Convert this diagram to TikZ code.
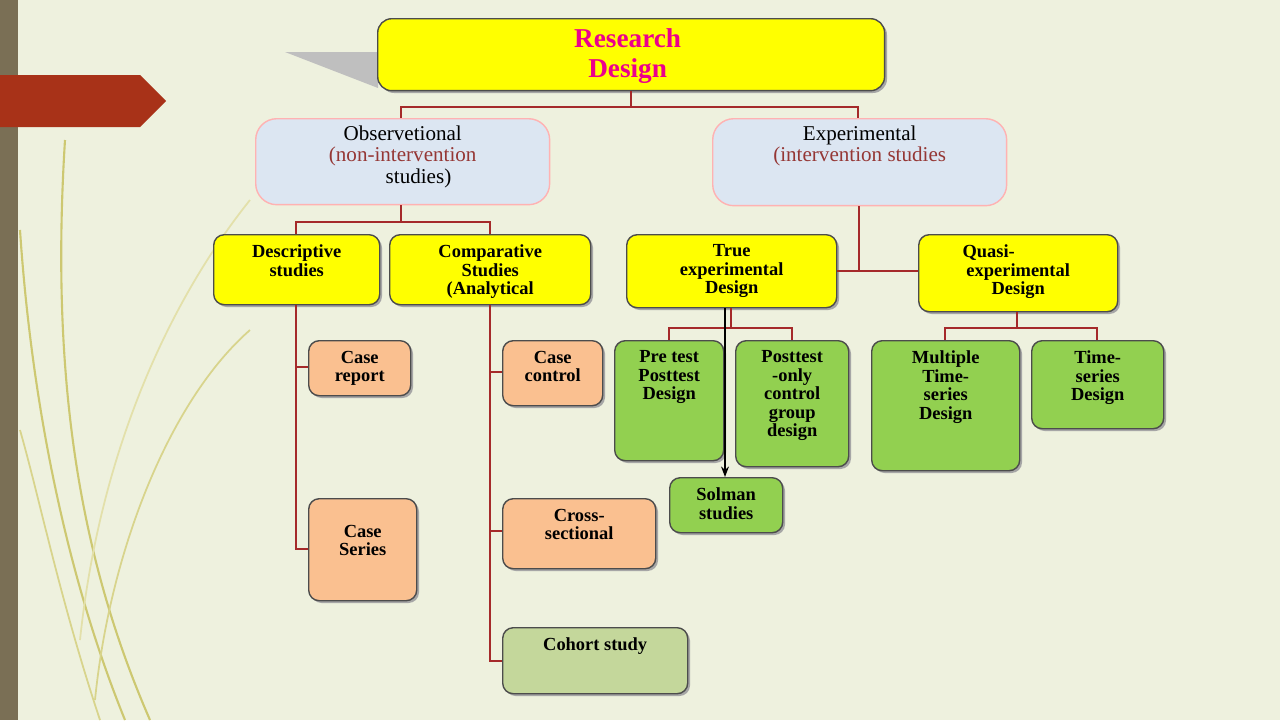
\documentclass[tikz,border=0pt]{standalone}
\usepackage{fontspec}
\setmainfont{Liberation Serif}
\usetikzlibrary{arrows.meta}
\definecolor{bg}{HTML}{EEF1DE}
\definecolor{ylw}{HTML}{FFFF00}
\definecolor{sal}{HTML}{FAC090}
\definecolor{grn}{HTML}{92D050}
\definecolor{lgrn}{HTML}{C4D79B}
\definecolor{lblue}{HTML}{DCE6F2}
\definecolor{conn}{HTML}{A52A2A}
\definecolor{redtxt}{HTML}{953735}
\definecolor{tab}{HTML}{A83218}
\definecolor{strip}{HTML}{7A6F55}
\tikzset{
 bx/.style={draw=black!70, line width=0.8pt, rounded corners=6pt, anchor=north west, inner sep=0pt},
 txt/.style={anchor=north, align=center, font=\bfseries\fontsize{10.5}{10.5}\selectfont, inner sep=0pt},
 cn/.style={draw=conn, line width=1.6pt},
}
\newcommand{\bbox}[7]{% name x1 y1 x2 y2 fill text
 \fill[black!35, rounded corners=6pt] (#2+3,#3+3) rectangle (#4+3,#5+3);
 \node[bx, fill=#6, minimum width=#4*0.02cm-#2*0.02cm, minimum height=#5*0.02cm-#3*0.02cm] (#1) at (#2,#3) {};
 \node[txt] at ([yshift=-6pt]#1.north) {#7};}
\begin{document}
\begin{tikzpicture}[x=0.02cm,y=-0.02cm]
\useasboundingbox (0,0) rectangle (1280,720);
\fill[bg] (0,0) rectangle (1280,720);
\fill[strip] (0,0) rectangle (18,720);
\fill[tab] (0,75) -- (140,75) -- (166,101) -- (140,127) -- (0,127) -- cycle;
\draw[olive!45, line width=1.2pt] (125,720) .. controls (60,560) and (30,380) .. (20,230);
\draw[olive!45, line width=1.2pt] (150,720) .. controls (80,560) and (50,380) .. (65,140);
\draw[olive!35, line width=1pt] (100,720) .. controls (60,600) and (40,500) .. (20,430);
\draw[olive!35, line width=1pt] (95,700) .. controls (110,550) and (170,400) .. (250,330);
\draw[olive!25, line width=1pt] (80,640) .. controls (100,450) and (170,300) .. (250,200);
\fill[black!25] (285,52) -- (378,52) -- (378,88) -- cycle;
% top
\fill[black!35, rounded corners=8pt] (380,21) rectangle (887,93);
\node[bx, fill=ylw, rounded corners=8pt, minimum width=10.14cm, minimum height=1.44cm] (rd) at (377,18) {};
\node[anchor=north, align=center, text=magenta, font=\bfseries\fontsize{15.5}{17}\selectfont, inner sep=0pt] at ([yshift=-6pt,xshift=-2pt]rd.north) {Research\\Design};
% level 2
\node[bx, draw=red!30, fill=lblue, rounded corners=12pt, minimum width=5.88cm, minimum height=1.72cm] (obs) at (255,118) {};
\node[txt, font=\fontsize{12}{12.5}\selectfont] at ([yshift=-4pt]obs.north) {Observetional\\\textcolor{redtxt}{(non-intervention}\\\hspace*{1.5em}studies)};
\node[bx, draw=red!30, fill=lblue, rounded corners=12pt, minimum width=5.88cm, minimum height=1.74cm] (exp) at (712,118) {};
\node[txt, font=\fontsize{12}{12.5}\selectfont] at ([yshift=-4pt]exp.north) {Experimental\\\textcolor{redtxt}{(intervention studies}};
% level 3
\bbox{desc}{213}{234}{379}{304}{ylw}{Descriptive\\studies}
\bbox{comp}{389}{234}{590}{304}{ylw}{Comparative\\Studies\\(Analytical}
\bbox{true}{626}{234}{836}{307}{ylw}{True\\experimental\\Design}
\bbox{quasi}{918}{234}{1117}{311}{ylw}{\hspace*{-3.2em}Quasi-\\experimental\\Design}
% leaves
\bbox{cr}{308}{340}{410}{395}{sal}{Case\\report}
\bbox{cs}{308}{498}{416}{600}{sal}{\rule{0pt}{16pt}Case\\Series}
\bbox{cc}{502}{340}{602}{405}{sal}{Case\\control}
\bbox{xs}{502}{498}{655}{568}{sal}{Cross-\\sectional}
\bbox{co}{502}{627}{687}{693}{lgrn}{Cohort study}
\bbox{pre}{614}{340}{723}{460}{grn}{Pre test\\Posttest\\Design}
\bbox{post}{735}{340}{848}{466}{grn}{Posttest\\-only\\control\\group\\design}
\bbox{sol}{669}{477}{782}{532}{grn}{Solman\\studies}
\bbox{mul}{871}{340}{1019}{470}{grn}{Multiple\\Time-\\series\\Design}
\bbox{ts}{1031}{340}{1163}{428}{grn}{Time-\\series\\Design}
% connectors
\coordinate (j1) at (631,107);
\draw[cn] (rd.south -| j1) -- (j1);
\draw[cn] (obs.north -| 401,0) |- (j1) -| (exp.north -| 858,0);
\coordinate (j2) at (401,222);
\draw[cn] (obs.south -| j2) -- (j2);
\draw[cn] (desc.north -| 296,0) |- (j2) -| (comp.north -| 490,0);
\draw[cn] (exp.south -| 859,0) -- (859,271) coordinate (j5);
\draw[cn] (true.east |- j5) -- (quasi.west |- j5);
\draw[cn] (desc.south -| 296,0) |- (cs.west |- 0,549);
\draw[cn] (296,367) -- (cr.west |- 0,367);
\draw[cn] (comp.south -| 490,0) |- (co.west |- 0,661);
\draw[cn] (490,372) -- (cc.west |- 0,372);
\draw[cn] (490,531) -- (xs.west |- 0,531);
\coordinate (j3) at (731,328);
\draw[cn] (true.south -| j3) -- (j3);
\draw[cn] (pre.north -| 669,0) |- (j3) -| (post.north -| 792,0);
\draw[black, line width=0.8pt, -{Stealth[length=6pt]}] (true.south -| 725,0) -- (sol.north -| 725,0);
\coordinate (j4) at (1017,328);
\draw[cn] (quasi.south -| j4) -- (j4);
\draw[cn] (mul.north -| 945,0) |- (j4) -| (ts.north -| 1097,0);
\end{tikzpicture}
\end{document}
